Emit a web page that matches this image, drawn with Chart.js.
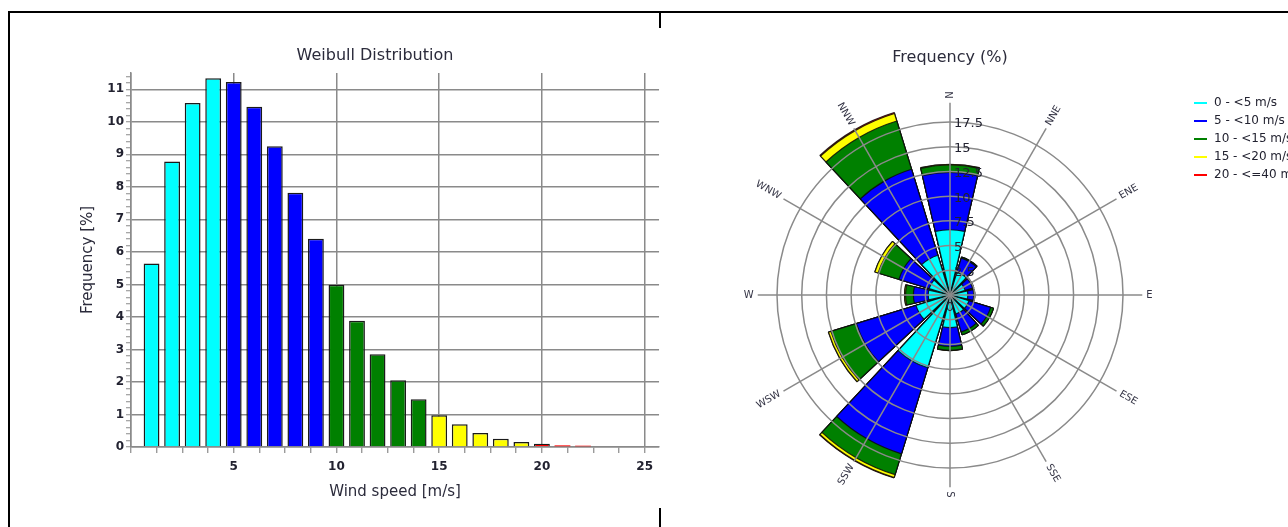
<!DOCTYPE html>
<html>
<head>
<meta charset="utf-8">
<script src="https://cdn.jsdelivr.net/npm/chart.js@4.4.1/dist/chart.umd.min.js"></script>
<style>
  html, body { margin: 0; padding: 0; background: #fff; }
  body { width: 1288px; height: 527px; position: relative; overflow: hidden; font-family: "DejaVu Sans", sans-serif; }
  canvas { position: absolute; top: 0; }
  #weibull { left: 0; }
  #rose { left: 660px; }
  .rule { position: absolute; background: #000; }
  .title { position: absolute; font: 16px/16px "DejaVu Sans", sans-serif; color: #2b2b3b; transform: translateX(-50%); white-space: nowrap; }
</style>
</head>
<body>
<canvas id="weibull" width="660" height="527"></canvas>
<canvas id="rose" width="628" height="527"></canvas>
<div class="title" style="left:375px; top:47px;">Weibull Distribution</div>
<div class="title" style="left:950px; top:49px;">Frequency (%)</div>
<div class="rule" style="left:8px; top:11px; width:1280px; height:2px;"></div>
<div class="rule" style="left:8px; top:11px; width:2px; height:516px;"></div>
<div class="rule" style="left:659px; top:11px; width:2px; height:17px;"></div>
<div class="rule" style="left:659px; top:508px; width:2px; height:19px;"></div>

<script>
// ---- Weibull distribution: frequency (%) per 1 m/s wind speed bin ----
const speeds = [1, 2, 3, 4, 5, 6, 7, 8, 9, 10, 11, 12, 13, 14, 15, 16, 17, 18, 19, 20, 21, 22];
const weibullFreq = [5.64, 8.78, 10.58, 11.34, 11.22, 10.46, 9.25, 7.82, 6.40, 4.99, 3.88,
                     2.85, 2.05, 1.47, 0.98, 0.70, 0.43, 0.25, 0.15, 0.10, 0.05, 0.04];

// ---- speed classes shared by both charts ----
const classEdges = [5, 10, 15, 20];
const classColors = ['#00ffff', '#0000ff', '#008000', '#ffff00', '#ff0000'];
const classLabels = ['0 - <5 m/s', '5 - <10 m/s', '10 - <15 m/s', '15 - <20 m/s', '20 - <=40 m/s'];

// ---- wind rose: frequency (%) per direction sector and speed class ----
const directions = ['N', 'NNE', 'ENE', 'E', 'ESE', 'SSE', 'S', 'SSW', 'WSW', 'W', 'WNW', 'NNW'];
const rose0to5   = [6.6, 2.4, 1.6, 1.8, 2.0, 2.0, 3.3, 7.7, 3.6, 2.2, 2.2, 4.2];
const rose5to10  = [5.8, 1.5, 0.8, 0.6, 2.3, 1.9, 1.9, 9.1, 6.3, 1.5, 3.2, 9.1];
const rose10to15 = [0.75, 0.1, 0.1, 0.1, 0.3, 0.3, 0.4, 2.2, 2.7, 0.8, 2.2, 5.1];
const rose15to20 = [0.05, 0, 0, 0, 0, 0, 0.02, 0.3, 0.25, 0.1, 0.35, 0.8];
const rose20to40 = [0.02, 0, 0, 0, 0, 0, 0, 0.05, 0.02, 0, 0, 0.1];
const roseRings = { min: 0, max: 17.5, step: 2.5 };

const FONT = '"DejaVu Sans", sans-serif';
const GRID = '#8a8a8a';
const INK = '#222230';

const classOf = s => classEdges.filter(e => s >= e).length;
const isMultiple = (v, m) => Math.abs(v / m - Math.round(v / m)) < 1e-6;

// ---------- Weibull bar chart ----------
new Chart(document.getElementById('weibull'), {
  type: 'bar',
  data: {
    datasets: [{
      data: speeds.map((s, i) => ({ x: s, y: weibullFreq[i] })),
      backgroundColor: speeds.map(s => classColors[classOf(s)]),
      borderColor: '#1a1a1a',
      borderWidth: weibullFreq.map(v => (v < 0.08 ? 0 : 1.5)),
      borderSkipped: 'start',
      barPercentage: 0.77,
      categoryPercentage: 1
    }]
  },
  options: {
    responsive: false,
    animation: false,
    events: [],
    layout: { padding: { left: 0, right: 0, top: 73, bottom: 0 } },
    plugins: { legend: { display: false }, tooltip: { enabled: false }, title: { display: false } },
    scales: {
      x: {
        type: 'linear', min: 0, max: 25.7, offset: false,
        ticks: {
          stepSize: 1.25, includeBounds: false, autoSkip: false, maxRotation: 0,
          padding: 7, color: INK, font: { family: FONT, size: 12, weight: 'bold' },
          callback: v => (v > 0 && isMultiple(v, 5)) ? String(Math.round(v)) : ''
        },
        grid: {
          offset: false,
          color: c => (c.tick && isMultiple(c.tick.value, 5)) ? GRID : 'rgba(0,0,0,0)',
          lineWidth: 1.5, tickColor: GRID, tickLength: 6, tickWidth: 1.2
        },
        border: { color: GRID, width: 1.5 },
        title: { display: true, text: 'Wind speed [m/s]', color: '#2b2b3b',
                 font: { family: FONT, size: 15 }, padding: { top: 4, bottom: 26 } },
        afterFit: s => { s.height = 80; }
      },
      y: {
        min: 0, max: 11.5,
        ticks: {
          stepSize: 0.2, includeBounds: false, autoSkip: false,
          padding: 2, color: INK, font: { family: FONT, size: 12, weight: 'bold' },
          callback: v => isMultiple(v, 1) ? String(Math.round(v)) : ''
        },
        grid: {
          color: c => (c.tick && isMultiple(c.tick.value, 1)) ? GRID : 'rgba(0,0,0,0)',
          lineWidth: 1.5, tickColor: GRID, tickLength: 5, tickWidth: 1
        },
        border: { color: GRID, width: 1.5 },
        title: { display: true, text: 'Frequency [%]', color: '#2b2b3b',
                 font: { family: FONT, size: 15 }, padding: { top: 79, bottom: 0 } },
        afterFit: s => { s.width = 131; }
      }
    }
  }
});

// ---------- Wind rose ----------
const SECTOR = 360 / directions.length;
const GAP = 4;
const classSeries = [rose0to5, rose5to10, rose10to15, rose15to20, rose20to40];

// Stacked rose: each class is drawn as the running total, lower classes on top.
let running = directions.map(() => 0);
const roseDatasets = classSeries.map((series, k) => {
  running = running.map((r, i) => r + series[i]);
  const data = [];
  running.forEach(v => { data.push(v, 0); }); // every sector is followed by a narrow empty gap
  return {
    label: classLabels[k],
    data,
    backgroundColor: classColors[k],
    borderColor: 'rgba(10,10,10,0.85)',
    borderWidth: c => (c.dataIndex % 2 ? 0 : 1.2),
    angle: c => (c.dataIndex % 2 ? GAP : SECTOR - GAP),
    clip: false
  };
});
const roseLabels = [];
directions.forEach(d => { roseLabels.push(d, ''); });

const roseOverlay = {
  id: 'roseOverlay',
  afterDraw(chart) {
    const ctx = chart.ctx;
    const sc = chart.scales.r;
    const cx = sc.xCenter, cy = sc.yCenter;
    const spokeEnd = sc.getDistanceFromCenterForValue(19.45);
    ctx.save();

    // direction spokes
    ctx.strokeStyle = GRID;
    ctx.lineWidth = 1.5;
    directions.forEach((d, i) => {
      const a = (i * SECTOR - 90) * Math.PI / 180;
      ctx.beginPath();
      ctx.moveTo(cx, cy);
      ctx.lineTo(cx + Math.cos(a) * spokeEnd, cy + Math.sin(a) * spokeEnd);
      ctx.stroke();
    });

    // direction names, written along their spoke
    ctx.font = '10px ' + FONT;
    ctx.fillStyle = '#333344';
    ctx.textBaseline = 'middle';
    directions.forEach((d, i) => {
      const bearing = i * SECTOR;
      const a = (bearing - 90) * Math.PI / 180;
      const rr = spokeEnd + 4;
      ctx.save();
      ctx.translate(cx + Math.cos(a) * rr, cy + Math.sin(a) * rr);
      if (bearing <= 180) { ctx.rotate(a); ctx.textAlign = 'left'; }
      else { ctx.rotate(a + Math.PI); ctx.textAlign = 'right'; }
      ctx.fillText(d, 0, 0);
      ctx.restore();
    });

    // ring values along the north spoke
    ctx.font = '13px ' + FONT;
    ctx.fillStyle = INK;
    sc.ticks.forEach(t => {
      const dist = sc.getDistanceFromCenterForValue(t.value);
      const txt = t.label !== undefined ? String(t.label) : String(t.value);
      if (t.value === 0) { ctx.textAlign = 'center'; ctx.fillText(txt, cx, cy + 13); }
      else { ctx.textAlign = 'left'; ctx.fillText(txt, cx + 4, cy - dist + 2); }
    });

    // speed class legend
    const lx = 534, ly = 103, step = 18;
    ctx.font = '12px ' + FONT;
    ctx.textAlign = 'left';
    chart.data.datasets.forEach((ds, i) => {
      const y = ly + i * step;
      ctx.strokeStyle = ds.backgroundColor;
      ctx.lineWidth = 2;
      ctx.beginPath();
      ctx.moveTo(lx, y);
      ctx.lineTo(lx + 13, y);
      ctx.stroke();
      ctx.fillStyle = INK;
      ctx.fillText(ds.label, lx + 20, y);
    });
    ctx.restore();
  }
};

new Chart(document.getElementById('rose'), {
  type: 'polarArea',
  data: { labels: roseLabels, datasets: roseDatasets },
  options: {
    responsive: false,
    animation: false,
    events: [],
    layout: { padding: { left: 117, top: 122, right: 165, bottom: 59 } },
    plugins: { legend: { display: false }, tooltip: { enabled: false }, title: { display: false } },
    scales: {
      r: {
        min: roseRings.min, max: roseRings.max,
        startAngle: -(SECTOR - GAP) / 2,
        ticks: { stepSize: roseRings.step, display: false },
        grid: { circular: true, color: GRID, lineWidth: 1.5, z: 1 },
        angleLines: { display: false },
        pointLabels: { display: false }
      }
    }
  },
  plugins: [roseOverlay]
});
</script>
</body>
</html>
